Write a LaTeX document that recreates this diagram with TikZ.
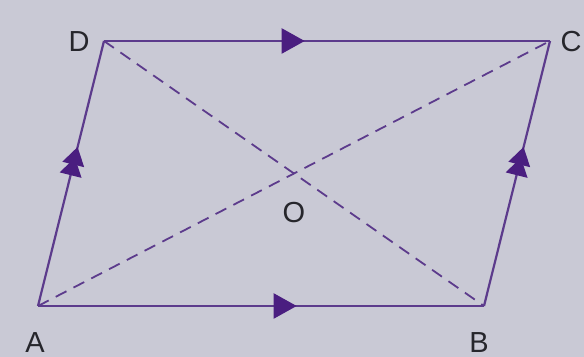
\documentclass[tikz,border=0pt]{standalone}
\usepackage{fontspec}
\setmainfont{Liberation Sans}
\usetikzlibrary{arrows.meta,decorations.markings}
\definecolor{paper}{HTML}{C9C9D5}
\definecolor{violet}{HTML}{5C3B8C}
\definecolor{plum}{HTML}{4A1E80}
\definecolor{ink}{HTML}{26262C}

\begin{document}
\begin{tikzpicture}[
      x=0.5pt, y=0.5pt,
      side/.style={draw=violet, line width=1.1pt},
      diag/.style={draw=violet, line width=0.9pt, dash pattern=on 6pt off 4pt},
      single/.style={postaction={decorate, decoration={markings,
        mark=at position #1 with {\arrow[plum]{Triangle[length=11.5pt,width=12.5pt]}}}}},
      double/.style={postaction={decorate, decoration={markings,
        mark=at position #1 with {\arrow[plum]{Triangle[length=9pt,width=11pt,sep=-3.5pt] Triangle[length=9pt,width=11pt]}}}}},
      lbl/.style={text=ink, font=\fontsize{14.5}{17}\selectfont, inner sep=0pt}
    ]
    \fill[paper] (0,0) rectangle (584,357);
    \useasboundingbox (0,0) rectangle (584,357);

    \coordinate (A) at (38,51);
    \coordinate (B) at (484,51);
    \coordinate (C) at (550,316);
    \coordinate (D) at (104,316);

    \node[lbl] (lblA) at (35,14) {A};
    \node[lbl] (lblB) at (479,14) {B};
    \node[lbl] (lblC) at (571,315) {C};
    \node[lbl] (lblD) at (79,315) {D};
    \node[lbl] (lblO) at (294,144) {O};

    % diagonals
    \draw[diag] (A) -- (C);
    \draw[diag] (D) -- (B);

    % sides
    \draw[side, single=0.58] (A) -- (B);
    \draw[side, single=0.45] (D) -- (C);
    \draw[side, double=0.6] (A) -- (D);
    \draw[side, double=0.6] (B) -- (C);
  \end{tikzpicture}
\end{document}
